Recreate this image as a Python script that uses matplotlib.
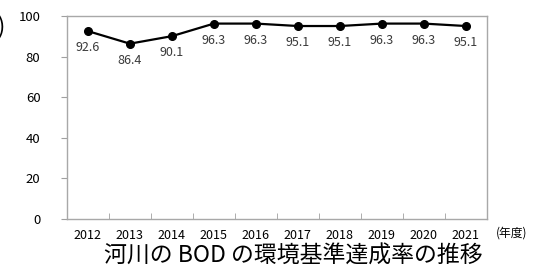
import numpy as np
import matplotlib
matplotlib.use("Agg")
from matplotlib import pyplot as plt

plt.rcParams['font.family'] = ['Noto Sans CJK JP', 'DejaVu Sans']

years = ['2012', '2013', '2014', '2015', '2016', '2017', '2018', '2019', '2020', '2021']
rates = [92.6, 86.4, 90.1, 96.3, 96.3, 95.1, 95.1, 96.3, 96.3, 95.1]
yticks = [0, 20, 40, 60, 80, 100]

fig = plt.figure(figsize=(5.35, 2.68), dpi=100)
ax = fig.add_axes([0.125, 0.183, 0.785, 0.757])

x = np.arange(len(years))
ax.plot(x, rates, color='black', lw=1.6, marker='o', markersize=5.5)
for xi, v in zip(x, rates):
    ax.annotate(f'{v:.1f}', (xi, v), xytext=(0, -12), textcoords='offset points',
                ha='center', va='center', fontsize=9, color='#3a3a3a')

ax.set_xlim(-0.5, len(years) - 0.5)
ax.set_ylim(0, 100)
ax.set_yticks(yticks)
ax.set_xticks(x)
ax.set_xticklabels(years)
ax.set_xticks(np.arange(len(years) - 1) + 0.5, minor=True)
ax.tick_params(axis='x', which='major', length=0, pad=7.5, labelsize=9)
ax.tick_params(axis='x', which='minor', direction='in', length=4, color='#a0a0a0')
ax.tick_params(axis='y', length=4, color='#a0a0a0', pad=15, labelsize=9.5)
for s in ax.spines.values():
    s.set_color('#a8a8a8')
    s.set_linewidth(1.0)

fig.text(512 / 535, 1 - 233 / 268, '(年度)', fontsize=8.5, ha='center', va='center')
fig.text(6 / 535, 1 - 27 / 268, '(%)', fontsize=17, ha='right', va='center')
fig.text(293 / 535, 1 - 256 / 268, '河川の BOD の環境基準達成率の推移', fontsize=16.5,
         ha='center', va='center')

fig.savefig('out.png', dpi=100)
